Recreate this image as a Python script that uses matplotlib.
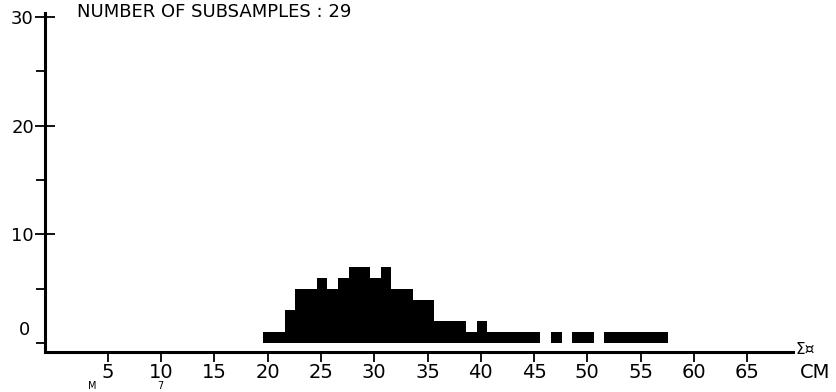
import matplotlib.pyplot as plt
import numpy as np

plt.rcParams['font.family'] = ['DejaVu Sans']

# number of subsamples per 1 cm length class, first class starts near 19.6 cm
counts = [1, 1, 3, 5, 5, 6, 5, 6, 7, 7, 6, 7, 5, 5, 4, 4, 2, 2, 2, 1, 2,
          1, 1, 1, 1, 1, 0, 1, 0, 1, 1, 0, 1, 1, 1, 1, 1, 1]
first_class = 19.6
class_width = 1.0
xtick_vals = list(range(5, 70, 5))
ytick_major = [10, 20, 30]
ytick_minor = [0, 5, 15, 25]
title = "NUMBER OF SUBSAMPLES : 29"

class_lo = first_class + class_width * np.arange(len(counts))

W, H = 836, 392
fig = plt.figure(figsize=(W / 100, H / 100), dpi=100)
ax = fig.add_axes([45 / W, 40 / H, 748 / W, 339 / H])

ax.bar(class_lo, counts, width=class_width, align='edge',
       color='black', linewidth=0)

ax.set_xlim(-0.9, 69.3)
ax.set_ylim(-0.83, 30.36)

for s in ['top', 'right']:
    ax.spines[s].set_visible(False)
for s in ['left', 'bottom']:
    ax.spines[s].set_linewidth(2.2)
    ax.spines[s].set_color('black')

ax.set_xticks(xtick_vals)
ax.set_xticklabels([str(v) for v in xtick_vals])
ax.tick_params(axis='x', direction='out', length=7, width=1.3, pad=1,
               labelsize=14)

ax.set_yticks(ytick_major)
ax.set_yticklabels([str(v) for v in ytick_major])
ax.set_yticks(ytick_minor, minor=True)
ax.tick_params(axis='y', which='major', direction='inout', length=14,
               width=1.3, pad=1, labelsize=13)
ax.tick_params(axis='y', which='minor', direction='out', length=6.5,
               width=1.3)

fig.text(25 / W, 1 - 330 / H, '0', ha='center', va='center', fontsize=13)
fig.text(77 / W, 1 - 12 / H, title, ha='left', va='center', fontsize=13)
fig.text(805 / W, 1 - 350 / H, 'Σ¤', ha='center', va='center', fontsize=11)
fig.text(815 / W, 1 - 372 / H, 'CM', ha='center', va='center', fontsize=14)

# fragments of the next line of the page at the bottom edge
fig.text(92 / W, 1 / H, 'M', ha='center', va='bottom', fontsize=7)
fig.text(160 / W, 1 / H, '7', ha='center', va='bottom', fontsize=7)

fig.savefig('out.png', dpi=100)
